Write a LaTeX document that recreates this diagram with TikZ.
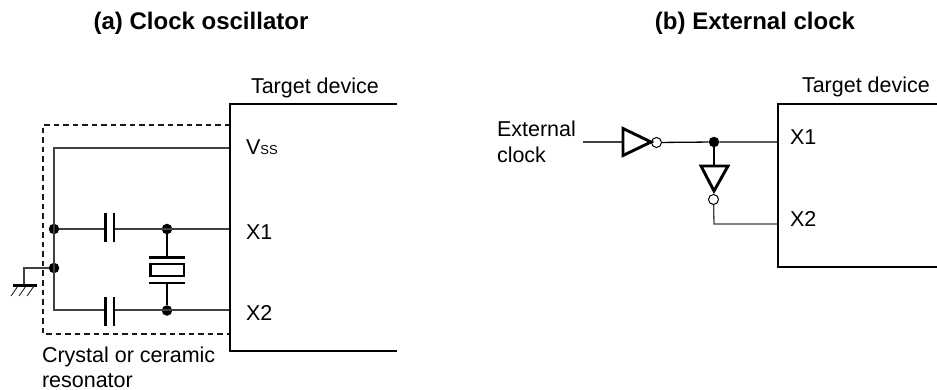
\documentclass[tikz,border=0pt]{standalone}
\usepackage{fontspec}
\setmainfont{Liberation Sans}
\usetikzlibrary{calc}
\tikzset{
  lbl/.style={inner sep=0pt,outer sep=0pt,font=\fontsize{21.5}{25}\selectfont,anchor=base west,text=black},
  ttl/.style={inner sep=0pt,font=\fontsize{24}{28}\selectfont\bfseries,anchor=base,text=black},
  wire/.style={line width=1.3pt,draw=black!75},
  heavy/.style={line width=2.9pt,draw=black},
  dot/.style={circle,fill=black,inner sep=0pt,minimum size=10.5pt},
  bubble/.style={circle,draw=black,line width=1pt,fill=white,inner sep=0pt,minimum size=10pt},
  dash box/.style={line width=1.1pt,draw=black!90,dash pattern=on 5.5pt off 4pt}
}
\begin{document}
\begin{tikzpicture}[x=1pt,y=-1pt]
\useasboundingbox[fill=white] (0,0) rectangle (937,390);
% titles
\node[ttl] (ta) at (201,30) {(a) Clock oscillator};
\node[ttl] (tb) at (755,30) {(b) External clock};
% device a
\coordinate (a1) at (397,104); \coordinate (a2) at (230,104);
\coordinate (a3) at (230,351); \coordinate (a4) at (397,351);
% dashed box
\coordinate (d1) at (230,125); \coordinate (d2) at (43,125);
\coordinate (d3) at (43,334); \coordinate (d4) at (230,334);
\draw[dash box] (d1) -- (d2) -- (d3) -- (d4);
% wiring a
\coordinate (vssE) at (230,148); \coordinate (vssW) at (54,148);
\coordinate (x1E) at (230,229); \coordinate (x2E) at (230,310);
\coordinate (x2W) at (54,310);
\node[dot] (n1) at (54,229) {};
\node[dot] (n2) at (54,268) {};
\node[dot] (n3) at (167,229) {};
\node[dot] (n4) at (167,310.5) {};
\draw[wire] (vssE) -- (vssW) -- (x2W) -- (x2E);
\draw[wire] (n1) -- (x1E);
% capacitors
\fill[white] (106,212) rectangle (113,243);
\fill[white] (106,296) rectangle (113,327);
\draw[heavy] (105.5,213) -- (105.5,242) (114,213) -- (114,242);
\draw[heavy] (105.5,297) -- (105.5,326) (114,297) -- (114,326);
% crystal
\coordinate (c1) at (167,257); \coordinate (c2) at (167,283);
\draw[wire,draw=black] (n3) -- (c1) (c2) -- (n4);
\draw[heavy] (149,257.5) -- (185,257.5) (149,283) -- (185,283);
\draw[heavy] (150.5,264) rectangle (184,276);
% ground
\coordinate (g1) at (24,268); \coordinate (g2) at (24,285);
\draw[wire,line width=1.1pt] (n2) -- (g1) -- (g2);
\draw[heavy] (13,285.5) -- (37,285.5);
\foreach \x in {18,26,34} \draw[line width=.9pt,draw=black!85] (\x,286) -- (\x-7,296);
% device outline a
\draw[heavy] (a1) -- (a2) -- (a3) -- (a4);
% labels a
\node[lbl] (tda) at (251,94) {Target device};
\node[lbl] (vss) at (246,154.5) {V{\fontsize{13}{15}\selectfont SS}};
\node[lbl] (xa1) at (246,239.5) {X1};
\node[lbl] (xa2) at (246,320) {X2};
\node[lbl] (cr1) at (42,362) {Crystal or ceramic};
\node[lbl] (cr2) at (42,387) {resonator};
% device b
\coordinate (b1) at (937,104); \coordinate (b2) at (778,104);
\coordinate (b3) at (778,267); \coordinate (b4) at (937,267);
% external
\node[lbl] (ext1) at (497,137) {External};
\node[lbl] (ext2) at (497,163) {clock};
\coordinate (in) at (583,142);
\coordinate (xb1) at (778,142); \coordinate (xb2) at (778,224);
\node[dot] (nb) at (714,142) {};
\node[bubble] (bu1) at (656.5,142.5) {};
\node[bubble] (bu2) at (713.5,199.5) {};
\coordinate (bc) at (714,224);
\coordinate (t1a) at (623,128.5); \coordinate (t1b) at (623,155.5); \coordinate (t1c) at (651,142);
\coordinate (t1in) at (623,142);
\coordinate (t2a) at (701,166); \coordinate (t2b) at (728,166); \coordinate (t2c) at (714,191);
\coordinate (t2in) at (714,166);
\draw[wire] (in) -- (t1in);
\draw[wire,draw=black] (bu1) -- (nb) -- (xb1);
\draw[wire,draw=black] (nb) -- (t2in);
\draw[heavy,line join=miter] (t1a) -- (t1b) -- (t1c) -- cycle;
\draw[heavy,line join=miter] (t2a) -- (t2b) -- (t2c) -- cycle;
\draw[wire] (bu2) -- (bc) -- (xb2);
\draw[heavy] (b1) -- (b2) -- (b3) -- (b4);
\node[lbl] (tdb) at (802,93) {Target device};
\node[lbl] (xb1t) at (790,145) {X1};
\node[lbl] (xb2t) at (790,227) {X2};
\end{tikzpicture}
\end{document}
